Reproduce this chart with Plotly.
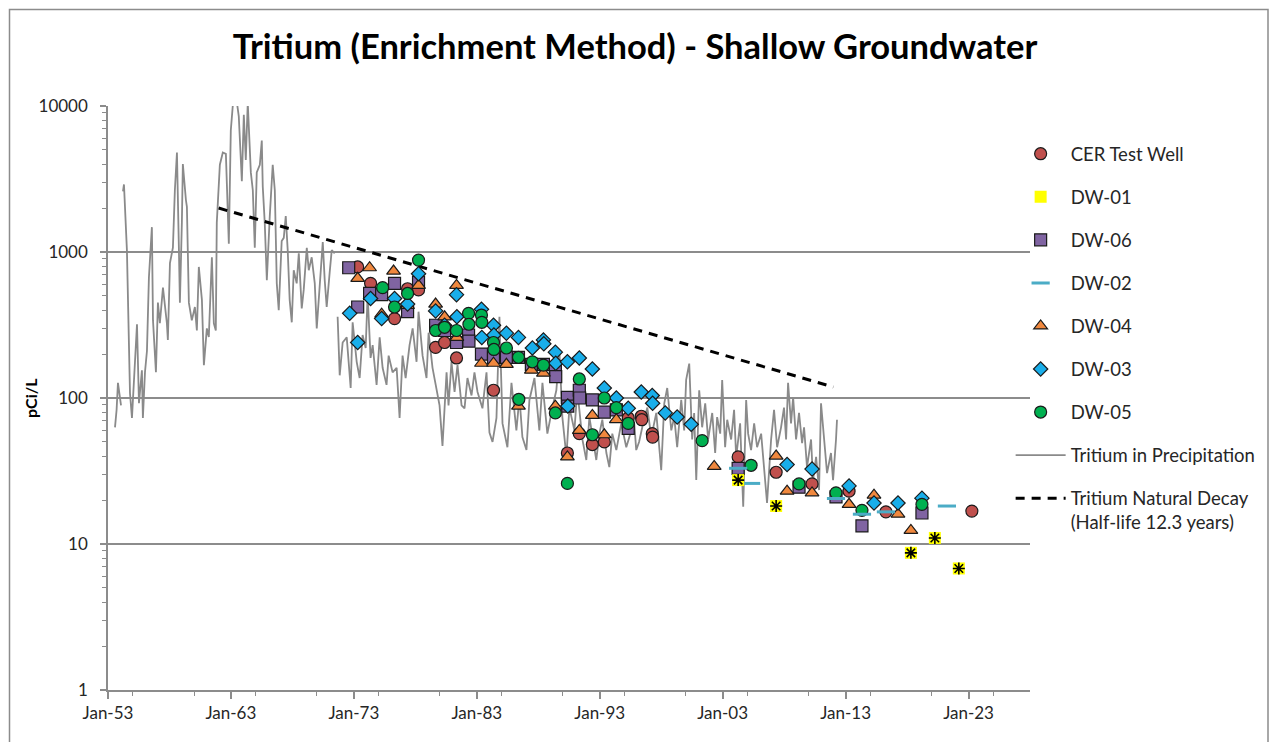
import plotly.graph_objects as go
from datetime import datetime

# ---------------- data (decimal year, pCi/L) ----------------
precip = [
    (1953.57, 63), (1953.70, 83), (1953.81, 127), (1954.06, 89), None,
    (1954.22, 2600), (1954.30, 2900), (1954.54, 1030), (1954.79, 108), (1954.95, 73),
    (1955.11, 133), (1955.36, 320), (1955.52, 92), (1955.76, 155), (1955.84, 73),
    (1956.01, 150), (1956.17, 210), (1956.33, 670), (1956.57, 1480), (1956.66, 340), (1956.90, 150),
    (1957.06, 450), (1957.22, 325), (1957.47, 570), (1957.79, 325), (1957.87, 250),
    (1958.04, 840), (1958.28, 1070), (1958.44, 2650), (1958.61, 4800), (1958.77, 1030), (1958.85, 450),
    (1959.01, 1590), (1959.09, 4000), (1959.34, 2270), (1959.42, 2040), (1959.58, 450), (1959.82, 340),
    (1960.07, 420), (1960.23, 290), (1960.39, 790), (1960.64, 470), (1960.80, 168),
    (1961.04, 300), (1961.20, 262), (1961.45, 920), (1961.61, 325), (1961.77, 290), (1961.85, 1590),
    (1962.10, 3960), (1962.34, 4800), (1962.59, 4700), (1962.83, 1140), (1962.99, 6800),
    (1963.15, 10000), (1963.40, 12000), (1963.64, 8500), (1963.89, 3050),
    (1964.05, 8700), (1964.21, 4270), (1964.37, 10500), (1964.62, 3510), (1964.78, 2650), (1964.94, 1070),
    (1965.10, 3510), (1965.35, 3960), (1965.51, 5800), (1965.59, 2800), (1965.75, 1590), (1965.92, 640),
    (1966.16, 1760), (1966.40, 3960), (1966.57, 2650), (1966.73, 610), (1966.89, 400),
    (1967.13, 1190), (1967.30, 1250), (1967.46, 1760), (1967.62, 1030), (1967.78, 470), (1967.95, 330),
    (1968.11, 750), (1968.35, 610), (1968.52, 980), (1968.76, 410), (1968.92, 550),
    (1969.17, 1070), (1969.33, 750), (1969.57, 920), (1969.82, 610), (1969.98, 300),
    (1970.22, 610), (1970.47, 1170), (1970.63, 640), (1970.79, 420),
    (1971.03, 720), (1971.20, 1030), (1971.44, 980), None,
    (1971.68, 360), (1971.85, 143), (1972.09, 240), (1972.42, 260), (1972.74, 117), (1972.90, 330),
    (1973.23, 177), (1973.47, 137), (1973.71, 270), (1973.96, 220),
    (1974.12, 510), (1974.36, 188), (1974.53, 230), (1974.85, 123),
    (1975.10, 260), (1975.34, 161), (1975.66, 123), (1975.83, 195),
    (1976.15, 150), (1976.48, 161), (1976.72, 73), (1976.96, 195),
    (1977.21, 137), (1977.53, 230), (1977.78, 300),
    (1978.10, 177), (1978.26, 390), (1978.59, 195), (1978.91, 137),
    (1979.08, 280), (1979.40, 161), (1979.73, 117), (1979.97, 89),
    (1980.21, 47), (1980.54, 150), (1980.70, 89), (1980.94, 177),
    (1981.19, 110), (1981.43, 168), (1981.76, 89),
    (1982.00, 85), (1982.24, 137), (1982.57, 104), (1982.81, 150),
    (1983.06, 110), (1983.46, 85), (1983.79, 150),
    (1984.03, 58), (1984.28, 50), (1984.60, 73), (1984.84, 360),
    (1985.09, 67), (1985.49, 46), (1985.82, 127),
    (1986.22, 60), (1986.47, 101), (1986.71, 54),
    (1987.04, 44), (1987.28, 97), (1987.69, 137),
    (1988.09, 60), (1988.34, 127), (1988.74, 57),
    (1989.15, 86), (1989.47, 113), (1989.72, 210), (1989.96, 74),
    (1990.29, 39.5), (1990.53, 86), (1990.94, 60),
    (1991.18, 113), (1991.59, 52), (1991.91, 37.6),
    (1992.16, 74), (1992.40, 54), (1992.72, 37.6), (1992.97, 57),
    (1993.21, 71), (1993.54, 42), (1993.78, 33.6),
    (1994.02, 57), (1994.35, 44), (1994.75, 67),
    (1995.16, 46), (1995.57, 60), (1995.81, 67), (1995.97, 44),
    (1996.20, 50), (1996.46, 63), (1996.87, 86),
    (1997.19, 54), (1997.60, 79), (1998.00, 32),
    (1998.25, 92), (1998.49, 117), (1998.82, 60),
    (1999.06, 74), (1999.30, 46), (1999.63, 97), (1999.87, 60),
    (2000.03, 133), (2000.28, 172), (2000.52, 52), (2000.68, 79), (2000.85, 27.4),
    (2001.09, 113), (2001.33, 63), (2001.58, 92), (2001.82, 52),
    (2002.15, 79), (2002.39, 42), (2002.55, 74), (2002.80, 57), (2002.96, 133),
    (2003.20, 46), (2003.37, 71), (2003.69, 52), (2003.93, 83),
    (2004.10, 39.5), (2004.42, 67), (2004.67, 18), (2004.91, 97),
    (2005.07, 57), (2005.31, 44), (2005.56, 67), (2005.80, 46),
    (2006.13, 57), (2006.37, 30.6), (2006.61, 19.1), (2006.94, 52),
    (2007.18, 83), (2007.43, 46), (2007.75, 63), (2007.99, 86),
    (2008.16, 52), (2008.32, 127), (2008.56, 67), (2008.73, 101), (2008.97, 52),
    (2009.21, 79), (2009.46, 49), (2009.62, 63), (2009.86, 33.6),
    (2010.19, 52), (2010.35, 27.4), (2010.60, 39.5), (2010.84, 23.4),
    (2011.00, 92), (2011.25, 52), (2011.49, 30.6), (2011.81, 42), (2011.98, 27.4),
    (2012.22, 52), (2012.30, 71),
]

decay = [(1962.0, 2000), (2012.0, 119)]

cer_test_well = [
    (1973.31, 790), (1974.36, 610), (1976.31, 350), (1977.37, 560), (1978.26, 550),
    (1979.65, 222), (1980.38, 240), (1981.35, 188), (1984.36, 113),
    (1990.37, 42), (1991.34, 57), (1992.40, 48), (1993.37, 50), (1995.32, 73),
    (1996.38, 75), (1996.42, 71), (1997.27, 57), (1997.30, 54),
    (2004.26, 39.5), (2007.35, 31), (2010.27, 25.8), (2013.28, 23), (2016.28, 16.6),
    (2023.27, 16.8),
]

dw01 = [(2004.26, 27.4), (2007.35, 18.2), (2018.31, 8.7), (2020.26, 11), (2022.21, 6.8)]

dw06 = [
    (1972.58, 780), (1973.31, 420), (1974.28, 520), (1975.26, 510), (1976.31, 610),
    (1977.37, 390), (1978.26, 620), (1979.65, 315), (1980.38, 290), (1981.35, 240),
    (1982.33, 270), (1982.36, 245), (1983.38, 200), (1984.36, 190), (1985.41, 190),
    (1986.39, 190), (1987.44, 170), (1988.42, 170), (1989.39, 160), (1989.42, 140),
    (1990.37, 101), (1990.40, 88), (1991.34, 113), (1991.37, 100), (1992.40, 97),
    (1993.37, 80), (1994.35, 83), (1995.32, 62), (2004.26, 33), (2009.21, 24.5),
    (2012.22, 21), (2014.33, 13.3), (2019.21, 16.3),
]

dw02 = [(2004.26, 33), (2005.31, 26), (2012.22, 20.5), (2014.33, 16), (2016.28, 16.6), (2021.24, 18.2)]

dw04 = [
    (1973.31, 660), (1974.28, 780), (1975.26, 375), (1976.23, 740), (1977.37, 430),
    (1978.26, 590), (1979.65, 440), (1980.38, 360), (1981.35, 590), (1981.38, 260),
    (1983.38, 173), (1984.36, 173), (1985.41, 170), (1986.39, 88), (1987.44, 155),
    (1988.42, 148), (1989.39, 88), (1990.37, 39.5), (1991.34, 60), (1992.40, 76),
    (1993.37, 56), (1994.35, 71), (2002.31, 34), (2007.35, 40), (2008.24, 23),
    (2010.27, 22.4), (2013.28, 18.7), (2015.31, 21.6), (2017.26, 16), (2018.31, 12.4),
]

dw03 = [
    (1972.66, 380), (1973.31, 240), (1974.36, 480), (1975.26, 350), (1976.31, 480),
    (1977.37, 440), (1978.26, 710), (1979.65, 395), (1980.38, 315), (1981.35, 510),
    (1981.38, 360), (1983.38, 405), (1983.41, 260), (1984.36, 315), (1984.39, 270),
    (1985.41, 278), (1986.39, 260), (1987.52, 220), (1988.42, 250), (1988.45, 235),
    (1989.39, 206), (1989.42, 173), (1990.37, 177), (1990.40, 88), (1991.34, 188),
    (1992.40, 158), (1993.37, 117), (1994.35, 100), (1995.32, 85), (1996.38, 110),
    (1997.27, 104), (1997.30, 92), (1998.33, 79), (1999.30, 74), (2000.44, 66),
    (2008.24, 35), (2010.27, 32.6), (2013.28, 25), (2015.31, 19.1), (2017.26, 19.1),
    (2019.21, 20.6),
]

dw05 = [
    (1975.34, 570), (1976.31, 420), (1977.37, 520), (1978.26, 880), (1979.65, 290),
    (1980.38, 305), (1981.35, 290), (1982.33, 380), (1982.36, 320), (1983.38, 370),
    (1983.41, 330), (1984.36, 240), (1984.39, 215), (1985.41, 220), (1986.39, 190),
    (1986.42, 98), (1987.52, 177), (1988.42, 168), (1989.39, 79), (1990.37, 26),
    (1991.34, 135), (1992.40, 56), (1993.37, 100), (1994.35, 86), (1995.32, 67),
    (2001.33, 51), (2005.31, 34.6), (2009.21, 25.8), (2012.22, 22.4), (2014.33, 17),
    (2019.21, 18.7),
]

x_tick_start = "1953-01-01"
x_range = ["1953-01-01", "2028-01-01"]
title_text = "Tritium (Enrichment Method) - Shallow Groundwater"
y_title = "pCi/L"


def to_date(y):
    yr = int(y)
    frac = y - yr
    a, b = datetime(yr, 1, 1), datetime(yr + 1, 1, 1)
    return a + (b - a) * frac


def xs(pairs):
    return [None if p is None else to_date(p[0]) for p in pairs]


def ys(pairs):
    return [None if p is None else p[1] for p in pairs]


FONT = "Lato"
GRID = "#8c8c8c"
TXT = "#262626"
OUT = dict(color="#1a1a1a", width=1.2)

fig = go.Figure()

# lines first (drawn beneath markers)
fig.add_trace(go.Scatter(
    x=xs(precip), y=ys(precip), mode="lines", name="Tritium in Precipitation",
    line=dict(color="#8a8a8a", width=1.8), connectgaps=False,
    legendgroup="g8", legendrank=8))
fig.add_trace(go.Scatter(
    x=xs(decay), y=ys(decay), mode="lines",
    name="Tritium Natural Decay<br>(Half-life 12.3 years)",
    line=dict(color="black", width=3, dash="9px,7px"),
    legendgroup="g9", legendrank=9))

fig.add_trace(go.Scatter(
    x=xs(cer_test_well), y=ys(cer_test_well), mode="markers", name="CER Test Well",
    marker=dict(symbol="circle", size=12, color="#C0504D", line=OUT),
    legendgroup="g1", legendrank=1))
fig.add_trace(go.Scatter(
    x=xs(dw06), y=ys(dw06), mode="markers", name="DW-06",
    marker=dict(symbol="square", size=12, color="#8064A2", line=OUT),
    legendgroup="g3", legendrank=3))
fig.add_trace(go.Scatter(
    x=xs(dw04), y=ys(dw04), mode="markers", name="DW-04",
    marker=dict(symbol="triangle-up", size=12, color="#F0883E", line=OUT),
    legendgroup="g5", legendrank=5))
fig.add_trace(go.Scatter(
    x=xs(dw03), y=ys(dw03), mode="markers", name="DW-03",
    marker=dict(symbol="diamond", size=11, color="#19AEEA", line=OUT),
    legendgroup="g6", legendrank=6))
fig.add_trace(go.Scatter(
    x=xs(dw05), y=ys(dw05), mode="markers", name="DW-05",
    marker=dict(symbol="circle", size=12, color="#00B050", line=OUT),
    legendgroup="g7", legendrank=7))
fig.add_trace(go.Scatter(
    x=xs(dw02), y=ys(dw02), mode="markers", name="DW-02",
    marker=dict(symbol="line-ew", size=13, color="#4BACC6",
                line=dict(color="#4BACC6", width=3)),
    legendgroup="g4", legendrank=4))
fig.add_trace(go.Scatter(
    x=xs(dw01), y=ys(dw01), mode="markers", name="DW-01",
    marker=dict(symbol="square", size=12, color="#FFFF00", line=dict(width=0)),
    legendgroup="g2", legendrank=2))
fig.add_trace(go.Scatter(
    x=xs(dw01), y=ys(dw01), mode="markers", name="DW-01", showlegend=False,
    marker=dict(symbol="asterisk-open", size=10, color="black",
                line=dict(color="black", width=1.6)),
    legendgroup="g2", legendrank=2, hoverinfo="skip"))

fig.update_layout(
    width=1270, height=742,
    margin=dict(l=108, r=240, t=106, b=52, autoexpand=False),
    paper_bgcolor="white", plot_bgcolor="white",
    font=dict(family=FONT, size=17, color=TXT),
    title=dict(text="<b>" + title_text + "</b>", x=0.5, xanchor="center",
               y=1 - 47 / 742, yanchor="middle",
               font=dict(family=FONT, size=34.5, color="black")),
    showlegend=True,
    legend=dict(x=0.979, xanchor="left", y=0.95, yanchor="top",
                traceorder="grouped", tracegroupgap=16, itemwidth=50,
                valign="top", font=dict(family=FONT, size=18.5, color=TXT),
                bgcolor="rgba(0,0,0,0)"),
    xaxis=dict(type="date", range=x_range, tick0=x_tick_start, dtick="M120",
               tickformat="%b-%y", showgrid=False, zeroline=False,
               showline=True, linecolor=GRID, linewidth=1.5,
               ticks="outside", ticklen=7, tickcolor=GRID, tickwidth=1.5,
               minor=dict(dtick="M60", ticks="outside", ticklen=4,
                          tickcolor=GRID, tickwidth=1.2, showgrid=False),
               tickfont=dict(family=FONT, size=17, color=TXT)),
    yaxis=dict(type="log", range=[0, 4], dtick=1, tickformat="d",
               showgrid=True, gridcolor=GRID, gridwidth=1.5, zeroline=False,
               showline=True, linecolor=GRID, linewidth=1.5,
               ticks="outside", ticklen=6, tickcolor=GRID, tickwidth=1.5,
               ticklabelstandoff=9,
               minor=dict(dtick="D1", ticks="outside", ticklen=4,
                          tickcolor=GRID, tickwidth=1.2, showgrid=False),
               tickfont=dict(family=FONT, size=17, color=TXT)),
    annotations=[dict(text="<b>" + y_title + "</b>", xref="paper", yref="paper",
                      x=(30 - 108) / 922, y=0.5, textangle=-90, showarrow=False,
                      xanchor="center", yanchor="middle",
                      font=dict(family=FONT, size=16, color="black"))],
    shapes=[dict(type="rect", xref="paper", yref="paper",
                 x0=(9.5 - 108) / 922, x1=(1268 - 108) / 922,
                 y0=(690 - 770) / 584, y1=(690 - 9.5) / 584,
                 line=dict(color="#8c8c8c", width=1.5), fillcolor="rgba(0,0,0,0)",
                 layer="below")],
)

fig.write_html("out.html", post_script="document.body.style.margin='0';",
               config={"displayModeBar": False})
